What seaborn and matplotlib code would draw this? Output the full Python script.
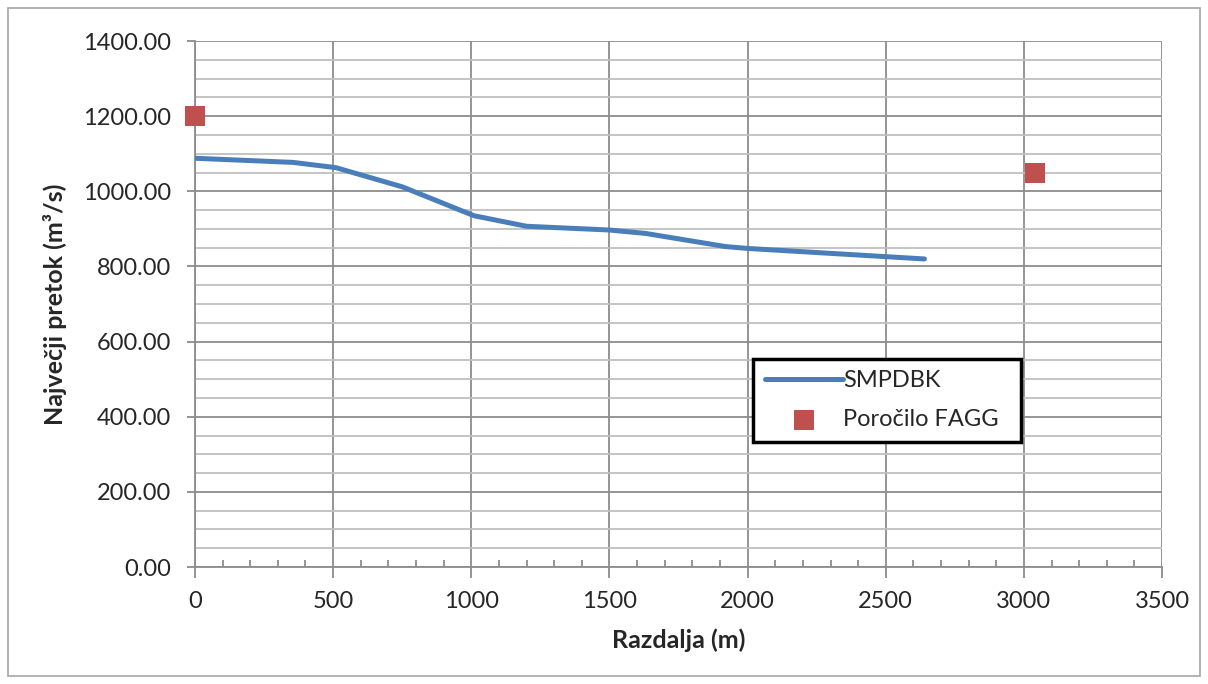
import matplotlib
matplotlib.use("Agg")
import matplotlib.pyplot as plt
from matplotlib.patches import Rectangle
from matplotlib.ticker import MultipleLocator, FormatStrFormatter
import seaborn as sns
import pandas as pd

# podatki
razdalja = [0, 355, 510, 750, 1010, 1200, 1500, 1630, 1920, 2000, 2640]
pretok = [1088, 1077, 1063, 1012, 935, 907, 897, 888, 853, 848, 820]
fagg_x = [0, 3040]
fagg_y = [1200, 1050]

df_line = pd.DataFrame({"x": razdalja, "y": pretok})
df_pts = pd.DataFrame({"x": fagg_x, "y": fagg_y})

sns.set_style("white")
plt.rcParams["font.family"] = ["Lato", "DejaVu Sans"]

fig = plt.figure(figsize=(12.08, 6.84), dpi=100)
ax = fig.add_axes([0.1614, 0.171, 0.8006, 0.769])

# okvir okoli celotne slike
fig.patches.append(Rectangle((8 / 1208, 8 / 684), 1192 / 1208, 668 / 684,
                             transform=fig.transFigure, fill=False,
                             edgecolor="#a6a6a6", linewidth=1.2))

sns.lineplot(data=df_line, x="x", y="y", color="#4a7ebb", linewidth=3.6,
             solid_capstyle="round", label="SMPDBK", ax=ax, zorder=3)
sns.scatterplot(data=df_pts, x="x", y="y", color="#c0504d", marker="s",
                s=190, linewidth=0, label="Poročilo FAGG", ax=ax,
                zorder=4, clip_on=False)

ax.set_xlim(0, 3500)
ax.set_ylim(0, 1400)
ax.xaxis.set_major_locator(MultipleLocator(500))
ax.xaxis.set_minor_locator(MultipleLocator(100))
ax.yaxis.set_major_locator(MultipleLocator(200))
ax.yaxis.set_minor_locator(MultipleLocator(50))
ax.yaxis.set_major_formatter(FormatStrFormatter("%.2f"))

ax.grid(which="major", axis="both", color="#8c8c8c", linewidth=1.3)
ax.grid(which="minor", axis="y", color="#bfbfbf", linewidth=1.3)
ax.set_axisbelow(True)

for s in ["top", "right"]:
    ax.spines[s].set_visible(False)
ax.spines["left"].set_color("#8c8c8c")
ax.spines["bottom"].set_color("#8c8c8c")
ax.spines["left"].set_linewidth(1.3)
ax.spines["bottom"].set_linewidth(1.3)

ax.tick_params(axis="y", which="major", direction="out", length=6, width=1.3,
               color="#8c8c8c", left=True, labelsize=17, pad=11)
ax.tick_params(axis="y", which="minor", left=False)
ax.tick_params(axis="x", which="major", direction="out", length=8, width=1.3,
               color="#8c8c8c", bottom=True, labelsize=17, pad=9)
ax.tick_params(axis="x", which="minor", direction="in", length=5, width=1.3,
               color="#8c8c8c", bottom=True)

ax.set_xlabel("Razdalja (m)", fontsize=18, fontweight="bold", labelpad=12)
ax.set_ylabel("Največji pretok (m³/s)", fontsize=18, fontweight="bold", labelpad=12)

leg = ax.legend(loc="lower left", bbox_to_anchor=(0.577, 0.238, 0.277, 0.165),
                mode="expand", fontsize=17, frameon=True, fancybox=False,
                borderpad=0.5, handlelength=3.3, labelspacing=0.75,
                handletextpad=0.0, borderaxespad=0)
leg.get_frame().set_edgecolor("black")
leg.get_frame().set_linewidth(2.5)
leg.get_frame().set_alpha(1)

fig.savefig("out.png", dpi=100)
